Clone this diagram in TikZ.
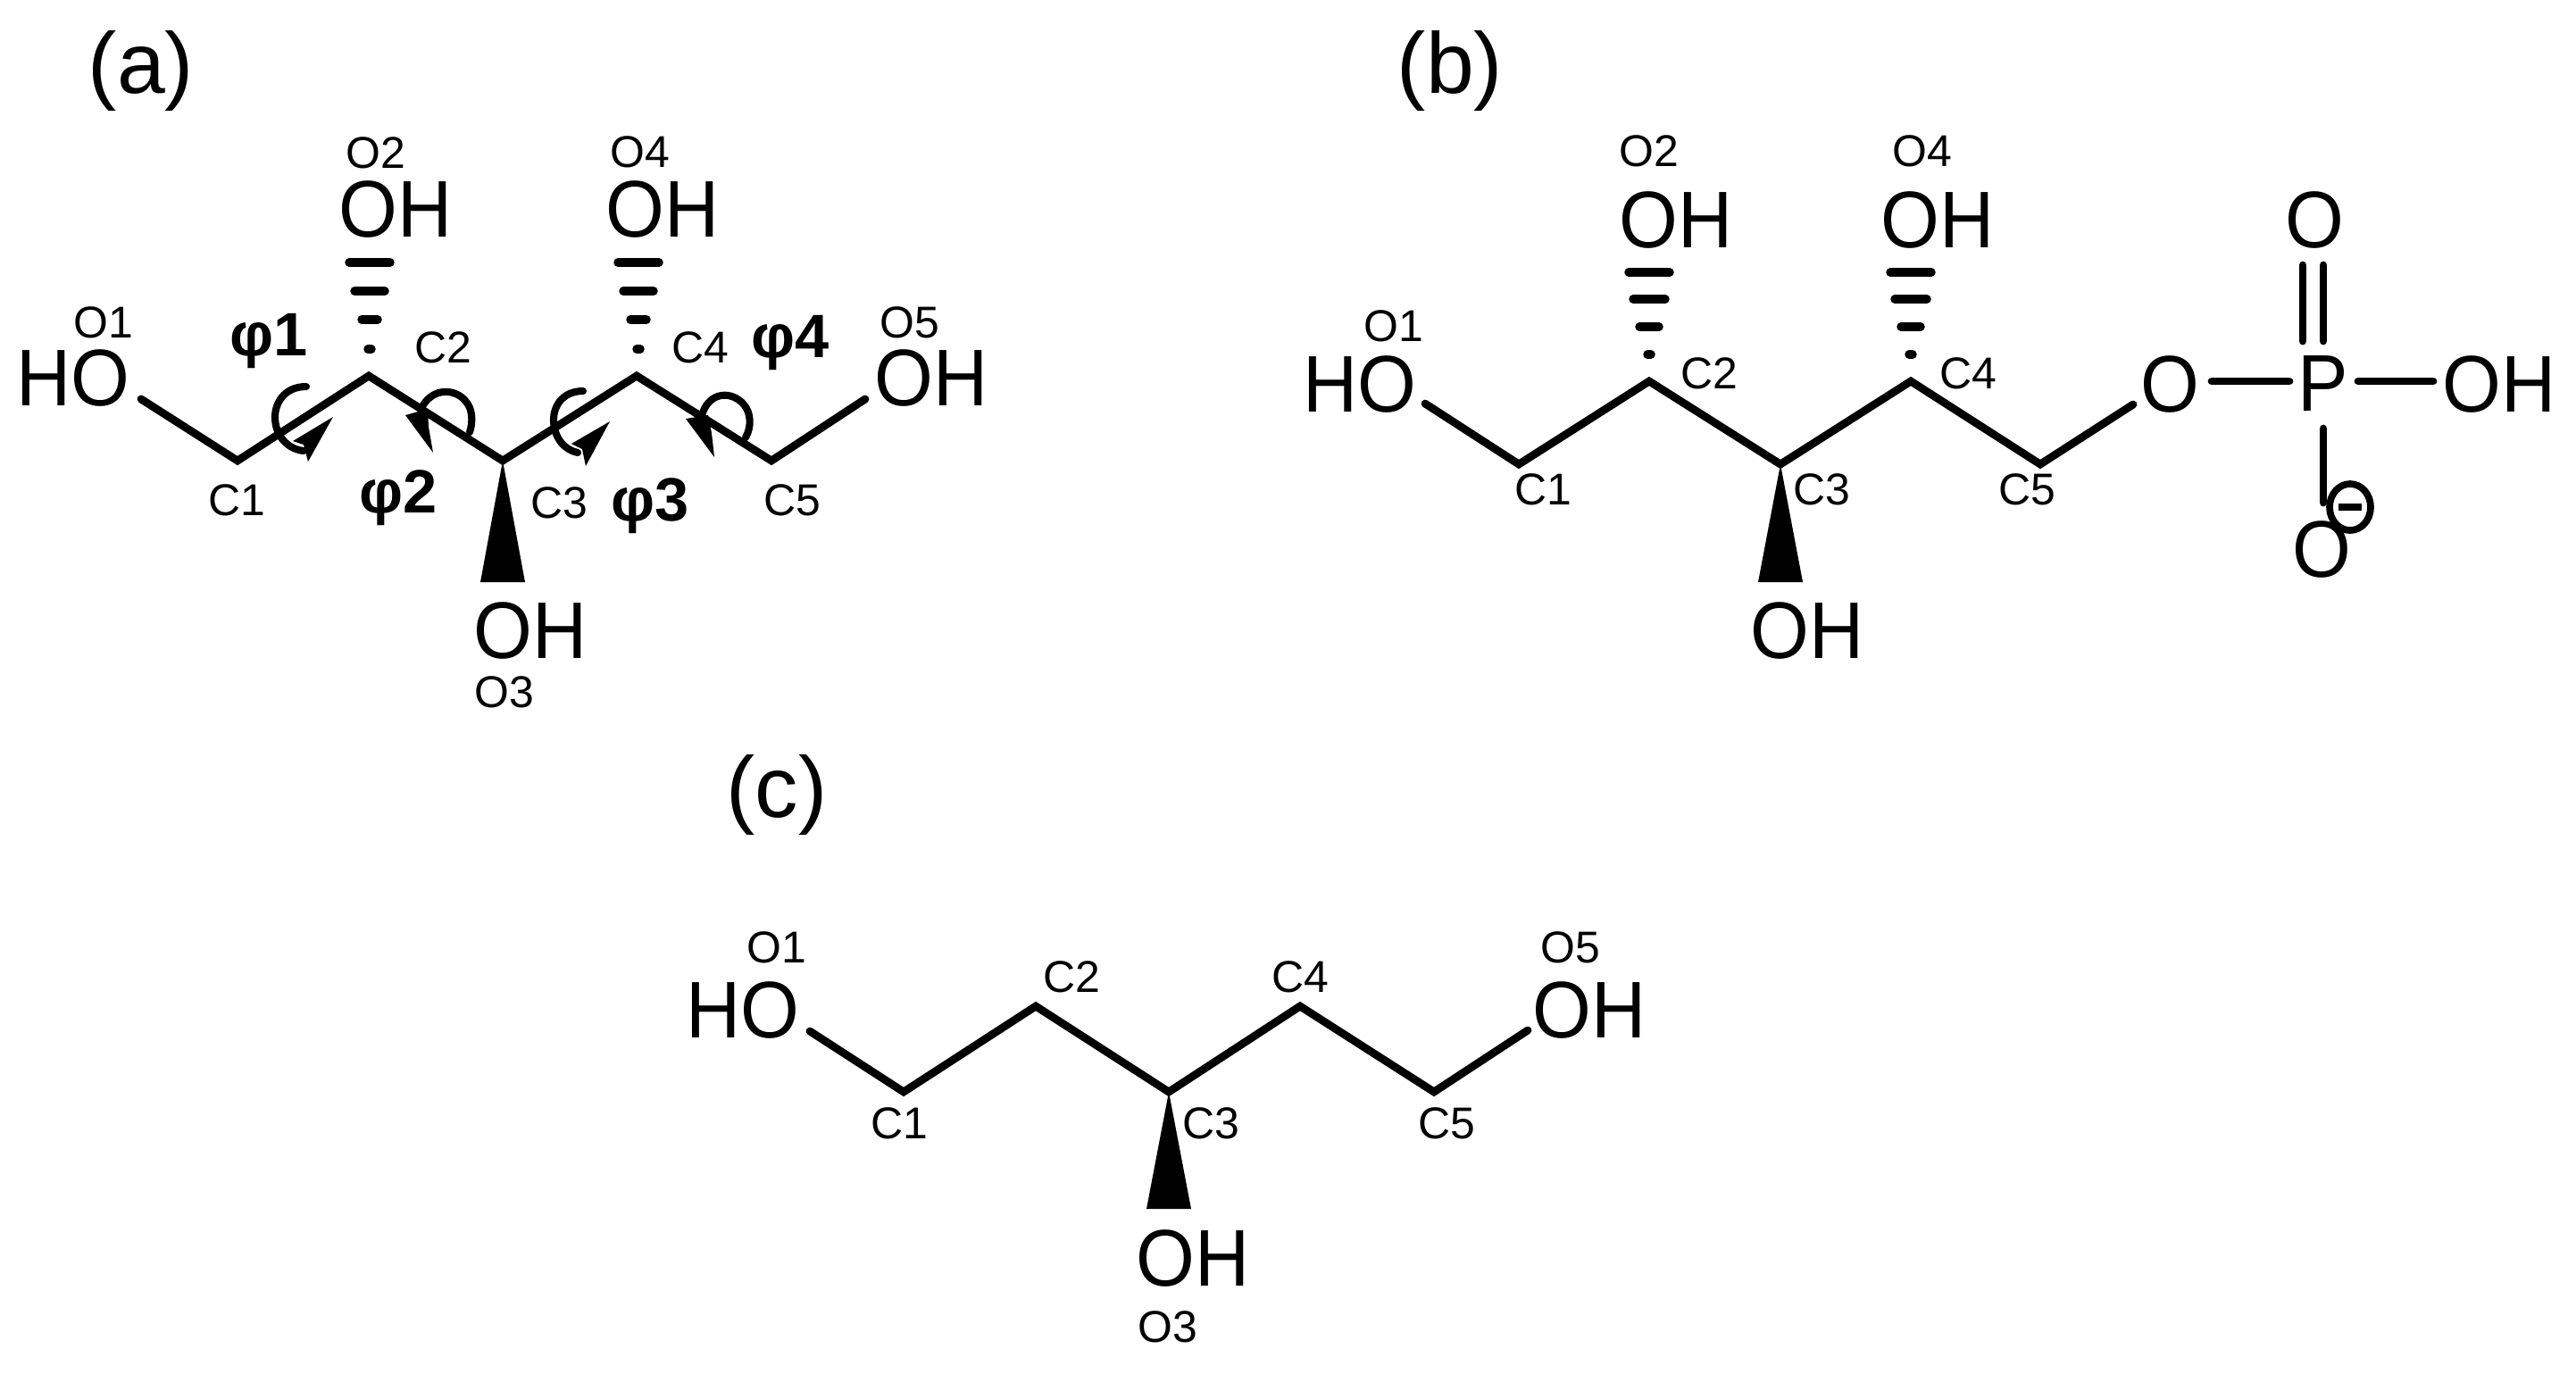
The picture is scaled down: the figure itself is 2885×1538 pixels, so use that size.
\documentclass[tikz,border=0pt]{standalone}
\usepackage{fontspec}
\setmainfont{Liberation Sans}
\newfontfamily\atomfont[FakeStretch=0.94]{Liberation Sans}
\tikzset{
  atomlabel/.style={inner sep=0pt,font=\atomfont\fontsize{25.6}{30}\selectfont},
  numlabel/.style={inner sep=0pt,font=\fontsize{14.2}{16}\selectfont},
  philabel/.style={inner sep=0pt,font=\fontsize{19.5}{24}\selectfont\bfseries},
  panellabel/.style={inner sep=0pt,font=\fontsize{27.5}{32}\selectfont},
  bond/.style={line width=2.5pt,line cap=round,line join=miter},
  hashbar/.style={line width=2.7pt,line cap=round},
  rotarc/.style={line width=2.3pt,line cap=round}
}
\begin{document}
\begin{tikzpicture}[x=0.01cm,y=-0.01cm]
  \useasboundingbox (0,0) rectangle (2885,1538);

  \node[panellabel] (panela) at (158,79) {(a)};
  \node[panellabel] (panelb) at (1624,79) {(b)};
  \node[panellabel] (panelc) at (870,890) {(c)};

  \coordinate (aO1) at (158,447);
  \coordinate (a1) at (266,516);
  \coordinate (a2) at (413,421);
  \coordinate (a3) at (563,516);
  \coordinate (a4) at (713,421);
  \coordinate (a5) at (864,516);
  \coordinate (aO5) at (969,447);
  \draw[bond] (aO1) -- (a1) -- (a2) -- (a3) -- (a4) -- (a5) -- (aO5);
  \fill (a3) -- (588,652) -- (538,652) -- cycle;
  \draw[hashbar] (391,294) -- (437,294);
  \draw[hashbar] (397,326) -- (431,326);
  \draw[hashbar] (405,358) -- (423,358);
  \draw[hashbar] (412,391) -- (416,391);
  \draw[hashbar] (692,294) -- (738,294);
  \draw[hashbar] (698,326) -- (732,326);
  \draw[hashbar] (706,358) -- (724,358);
  \draw[hashbar] (713,391) -- (717,391);
  \node[atomlabel] (aHO1) at (82,423) {HO};
  \node[atomlabel] (aOH2) at (443,234) {OH};
  \node[atomlabel] (aOH3) at (594,706) {OH};
  \node[atomlabel] (aOH4) at (742,234) {OH};
  \node[atomlabel] (aOH5) at (1043,423) {OH};
  \node[numlabel] (aLO1) at (116,361) {O1};
  \node[numlabel] (aLO2) at (421,171) {O2};
  \node[numlabel] (aLO3) at (565,775) {O3};
  \node[numlabel] (aLO4) at (717,170) {O4};
  \node[numlabel] (aLO5) at (1019,361) {O5};
  \node[numlabel] (aLC1) at (265,560) {C1};
  \node[numlabel] (aLC2) at (496,389) {C2};
  \node[numlabel] (aLC3) at (626,563) {C3};
  \node[numlabel] (aLC4) at (784,389) {C4};
  \node[numlabel] (aLC5) at (887,560) {C5};
  \node[philabel] (phi1) at (301,382) {φ1};
  \node[philabel] (phi2) at (446,558) {φ2};
  \node[philabel] (phi3) at (728,567) {φ3};
  \node[philabel] (phi4) at (885,384) {φ4};
  \draw[rotarc] (343,433) .. controls (318,433) and (308,452) .. (308,467) .. controls (308,488) and (322,503) .. (340,505);
  \fill (373,467) -- (345,517) -- (340,498) -- (328,494) -- cycle;
  \draw[rotarc] (526,484) .. controls (530,472) and (529,458) .. (522,450) .. controls (512,436) and (485,432) .. (472,457);
  \fill (454,465) -- (485,507) -- (480,478) -- (479,458) -- cycle;
  \draw[rotarc] (653,438) .. controls (630,438) and (620,455) .. (620,470) .. controls (620,490) and (632,504) .. (647,507);
  \fill (683,472) -- (656,522) -- (652,503) -- (640,497) -- cycle;
  \draw[rotarc] (835,490) .. controls (842,478) and (841,462) .. (833,453) .. controls (820,438) and (796,438) .. (787,462);
  \fill (768,469) -- (800,512) -- (797,485) -- (793,465) -- cycle;

  \coordinate (bO1) at (1596,452);
  \coordinate (b1) at (1701,520);
  \coordinate (b2) at (1847,427);
  \coordinate (b3) at (1994,520);
  \coordinate (b4) at (2140,427);
  \coordinate (b5) at (2285,520);
  \coordinate (bO5) at (2389,453);
  \draw[bond] (bO1) -- (b1) -- (b2) -- (b3) -- (b4) -- (b5) -- (bO5);
  \fill (b3) -- (2019,652) -- (1969,652) -- cycle;
  \draw[hashbar] (1824,305) -- (1870,305);
  \draw[hashbar] (1829,335) -- (1865,335);
  \draw[hashbar] (1836,366) -- (1858,366);
  \draw[hashbar] (1845,397) -- (1849,397);
  \draw[hashbar] (2117,305) -- (2163,305);
  \draw[hashbar] (2122,335) -- (2158,335);
  \draw[hashbar] (2129,366) -- (2151,366);
  \draw[hashbar] (2138,397) -- (2142,397);
  \node[atomlabel] (bHO1) at (1523,430) {HO};
  \node[atomlabel] (bOH2) at (1877,246) {OH};
  \node[atomlabel] (bOH3) at (2024,706) {OH};
  \node[atomlabel] (bOH4) at (2170,246) {OH};
  \node[numlabel] (bLO1) at (1561,365) {O1};
  \node[numlabel] (bLO2) at (1847,169) {O2};
  \node[numlabel] (bLO4) at (2153,169) {O4};
  \node[numlabel] (bLC1) at (1728,548) {C1};
  \node[numlabel] (bLC2) at (1914,418) {C2};
  \node[numlabel] (bLC3) at (2040,548) {C3};
  \node[numlabel] (bLC4) at (2204,418) {C4};
  \node[numlabel] (bLC5) at (2270,548) {C5};
  \node[atomlabel] (bO) at (2430,430) {O};
  \node[atomlabel] (bP) at (2602,430) {P};
  \node[atomlabel] (bOH) at (2799,430) {OH};
  \node[atomlabel] (bOtop) at (2592,246) {O};
  \node[atomlabel] (bOlow) at (2600,615) {O};
  \coordinate (bPl) at (2477,427);
  \coordinate (bPl2) at (2564,427);
  \coordinate (bPr) at (2641,427);
  \coordinate (bPr2) at (2725,427);
  \coordinate (bDa) at (2579,297);
  \coordinate (bDa2) at (2579,382);
  \coordinate (bDb) at (2602,297);
  \coordinate (bDb2) at (2602,382);
  \coordinate (bPd) at (2602,480);
  \coordinate (bPd2) at (2602,563);
  \draw[bond] (bPl) -- (bPl2);
  \draw[bond] (bPr) -- (bPr2);
  \draw[bond] (bDa) -- (bDa2);
  \draw[bond] (bDb) -- (bDb2);
  \draw[bond] (bPd) -- (bPd2);
  \draw[line width=2.2pt,fill=white] (2632,568) ellipse (23 and 26);
  \draw[bond,line cap=butt] (2619,568) -- (2645,568);

  \coordinate (cO1) at (907,1155);
  \coordinate (c1) at (1012,1223);
  \coordinate (c2) at (1160,1127);
  \coordinate (c3) at (1309,1223);
  \coordinate (c4) at (1456,1127);
  \coordinate (c5) at (1606,1223);
  \coordinate (cO5) at (1711,1154);
  \draw[bond] (cO1) -- (c1) -- (c2) -- (c3) -- (c4) -- (c5) -- (cO5);
  \fill (c3) -- (1334,1354) -- (1284,1354) -- cycle;
  \node[atomlabel] (cHO1) at (832,1131) {HO};
  \node[atomlabel] (cOH3) at (1336,1409) {OH};
  \node[atomlabel] (cOH5) at (1780,1131) {OH};
  \node[numlabel] (cLO1) at (870,1061) {O1};
  \node[numlabel] (cLO3) at (1308,1486) {O3};
  \node[numlabel] (cLO5) at (1759,1061) {O5};
  \node[numlabel] (cLC1) at (1007,1258) {C1};
  \node[numlabel] (cLC2) at (1200,1094) {C2};
  \node[numlabel] (cLC3) at (1356,1258) {C3};
  \node[numlabel] (cLC4) at (1456,1094) {C4};
  \node[numlabel] (cLC5) at (1620,1258) {C5};
\end{tikzpicture}
\end{document}
